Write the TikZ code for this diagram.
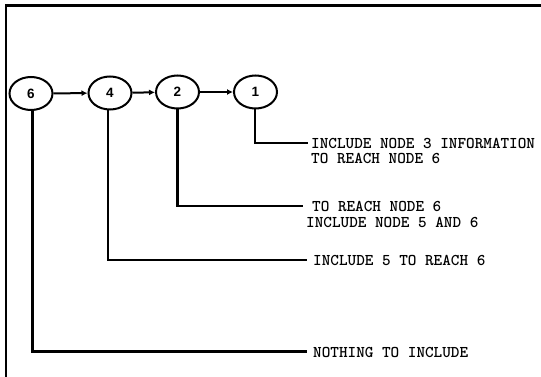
\documentclass[tikz,border=0pt]{standalone}
\usepackage{fontspec}
\setmainfont{Liberation Sans}
\usetikzlibrary{arrows.meta,shapes.geometric}
\begin{document}
\begin{tikzpicture}[x=1pt,y=-1pt,
  listnode/.style={draw,line width=2pt,ellipse,minimum width=43pt,minimum height=33pt,inner sep=0pt,font=\bfseries\fontsize{13.5}{15}\selectfont},
  conn/.style={line width=2.2pt},
  link/.style={line width=2pt,-{Latex[length=6pt,width=6pt]}},
  note/.style={anchor=north west,inner sep=0pt,align=left,font=\ttfamily\bfseries\fontsize{16.4}{15.5}\selectfont}]
\useasboundingbox (0,0) rectangle (541,377);
\draw[line width=2.5pt] (541,5.5) -- (6,5.5) -- (6,377);
\node[listnode] (n6) at (31,93.5) {6};
\node[listnode] (n4) at (110,93) {4};
\node[listnode] (n2) at (177.5,92) {2};
\node[listnode] (n1) at (255.5,92) {1};
\draw[link] (n6) -- (n4);
\draw[link] (n4) -- (n2);
\draw[link] (n2) -- (n1);
\coordinate (e1) at (308,143);
\coordinate (e2) at (303,206);
\coordinate (e4) at (307,260);
\coordinate (e6) at (307,351.5);
\draw[conn] ([xshift=-0.5pt]n1.south) |- (e1);
\draw[conn] (n2.south) |- (e2);
\draw[conn] ([xshift=-2pt]n4.south) |- (e4);
\draw[conn] ([xshift=1.5pt]n6.south) |- (e6);
\node[note] (t1) at (311,138) {INCLUDE NODE 3 INFORMATION\\TO REACH NODE 6};
\node[note] (t2) at (306,201.5) {\hspace*{6pt}TO REACH NODE 6\\INCLUDE NODE 5 AND 6};
\node[note] (t4) at (313,255.5) {INCLUDE 5 TO REACH 6};
\node[note] (t6) at (313,347.5) {NOTHING TO INCLUDE};
\end{tikzpicture}
\end{document}
